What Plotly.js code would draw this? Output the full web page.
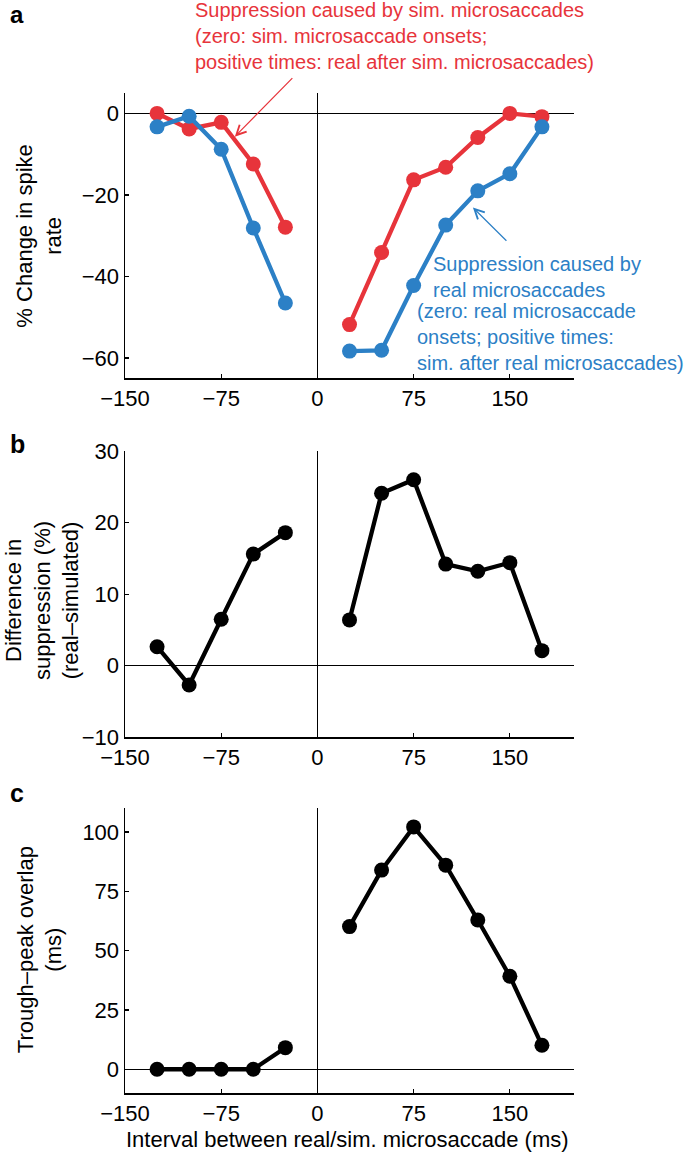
<!DOCTYPE html>
<html>
<head>
<meta charset="utf-8">
<script src="https://cdn.plot.ly/plotly-3.0.1.min.js"></script>
<style>html,body{margin:0;padding:0;background:#fff;}#chart{width:685px;height:1154px;}</style>
</head>
<body>
<div id="chart"></div>
<script>
// ---- data ----
const intervalsNeg = [-125, -100, -75, -50, -25];
const intervalsPos = [25, 50, 75, 100, 125, 150, 175];
const simSuppNeg  = [0, -3.8, -2.2, -12.4, -27.9];
const simSuppPos  = [-51.8, -34.1, -16.3, -13.2, -5.9, 0, -0.8];
const realSuppNeg = [-3.3, -0.7, -8.8, -28.1, -46.5];
const realSuppPos = [-58.3, -58.1, -42.2, -27.4, -19.0, -14.8, -3.3];
const diffNeg = [2.65, -2.7, 6.5, 15.6, 18.6];
const diffPos = [6.4, 24.1, 26.0, 14.2, 13.2, 14.4, 2.1];
const overlapNeg = [0, 0, 0, 0, 9.1];
const overlapPos = [60.1, 83.9, 102.1, 86.0, 62.9, 39.2, 10.1];
const xTicks = [-150, -75, 0, 75, 150];
const yTicksA = [-60, -40, -20, 0];
const yTicksB = [-10, 0, 10, 20, 30];
const yTicksC = [0, 25, 50, 75, 100];

// ---- styling / layout helpers ----
const W = 685, Hh = 1154;
const L = 124.6, R = 573.7, T = 92.7, B = 1093.3;
const px = x => (x - L) / (R - L);
const py = y => (B - y) / (B - T);
const FONT = 'Liberation Sans, Arial, Helvetica, sans-serif';
const RED = '#e7343b', BLUE = '#2c80c6', BLACK = '#000000';

function line(x, y, color, xa, ya) {
  return {x: x, y: y, xaxis: xa, yaxis: ya, type: 'scatter', mode: 'lines+markers',
    line: {color: color, width: 4.3}, marker: {color: color, size: 15}, showlegend: false, hoverinfo: 'skip'};
}
const traces = [
  line(intervalsNeg, simSuppNeg, RED, 'x', 'y'),
  line(intervalsPos, simSuppPos, RED, 'x', 'y'),
  line(intervalsNeg, realSuppNeg, BLUE, 'x', 'y'),
  line(intervalsPos, realSuppPos, BLUE, 'x', 'y'),
  line(intervalsNeg, diffNeg, BLACK, 'x2', 'y2'),
  line(intervalsPos, diffPos, BLACK, 'x2', 'y2'),
  line(intervalsNeg, overlapNeg, BLACK, 'x3', 'y3'),
  line(intervalsPos, overlapPos, BLACK, 'x3', 'y3')
];

function xax(anchor) {
  return {anchor: anchor, range: [-150, 200], tickvals: xTicks, ticks: 'inside', ticklen: 4, tickwidth: 1.2,
    tickcolor: '#000', showline: true, linewidth: 1.5, linecolor: '#000', showgrid: false,
    zeroline: true, zerolinecolor: '#000', zerolinewidth: 1.3, mirror: false,
    tickfont: {family: FONT, size: 22, color: '#000'}, fixedrange: true};
}
function yax(anchor, range, ticks, top, bottom) {
  return {anchor: anchor, range: range, tickvals: ticks, domain: [py(bottom), py(top)],
    ticks: 'inside', ticklen: 4, tickwidth: 1.2, tickcolor: '#000',
    showline: true, linewidth: 1.5, linecolor: '#000', showgrid: false,
    zeroline: true, zerolinecolor: '#000', zerolinewidth: 1.3, mirror: false,
    tickfont: {family: FONT, size: 22, color: '#000'}, fixedrange: true};
}

function txt(text, x, y, opts) {
  return Object.assign({text: text, xref: 'paper', yref: 'paper', x: px(x), y: py(y),
    showarrow: false, xanchor: 'center', yanchor: 'middle',
    font: {family: FONT, size: 22, color: '#000'}}, opts || {});
}
function arrow(x, y, ax, ay, color) {
  return {xref: 'x', yref: 'y', axref: 'x', ayref: 'y', x: x, y: y, ax: ax, ay: ay, text: '',
    showarrow: true, arrowhead: 5, arrowsize: 1.6, arrowwidth: 1.2, arrowcolor: color, standoff: 0};
}

const annotations = [
  txt('<b>a</b>', 9, 0, {xanchor: 'left', yanchor: 'top', borderpad: 0, font: {family: FONT, size: 24, color: '#000'}}),
  txt('<b>b</b>', 8, 444, {xanchor: 'left', font: {family: FONT, size: 25, color: '#000'}}),
  txt('<b>c</b>', 8, 793, {xanchor: 'left', font: {family: FONT, size: 25, color: '#000'}}),
  txt('% Change in spike<br>rate', 39, 236, {textangle: -90}),
  txt('Difference in<br>suppression (%)<br>(real\u2013simulated)', 41.5, 600, {textangle: -90}),
  txt('Trough\u2013peak overlap<br>(ms)', 39, 950, {textangle: -90}),
  txt('Interval between real/sim. microsaccade (ms)', 347, 1140),
  txt('Suppression caused by sim. microsaccades<br>(zero: sim. microsaccade onsets;<br>positive times: real after sim. microsaccades)',
      193, 35.5, {xanchor: 'left', align: 'left', font: {family: FONT, size: 20, color: RED}}),
  txt('Suppression caused by<br>real microsaccades', 431, 277, {xanchor: 'left', align: 'left', font: {family: FONT, size: 20, color: BLUE}}),
  txt('(zero: real microsaccade<br>onsets; positive times:<br>sim. after real microsaccades)', 414.5, 337.3,
      {xanchor: 'left', align: 'left', font: {family: FONT, size: 20, color: BLUE}}),
  arrow(-64.4, -5.7, -18.4, 9.0, RED),
  arrow(121.2, -23.1, 148.5, -31.6, BLUE)
];

const layout = {
  width: W, height: Hh,
  margin: {l: L, r: W - R, t: T, b: Hh - B, pad: 0},
  paper_bgcolor: '#fff', plot_bgcolor: '#fff',
  showlegend: false,
  font: {family: FONT, color: '#000'},
  xaxis: xax('y'), xaxis2: xax('y2'), xaxis3: xax('y3'),
  yaxis: yax('x', [-65, 5], yTicksA, 92.7, 378.3),
  yaxis2: yax('x2', [-10, 30], yTicksB, 451, 737.3),
  yaxis3: yax('x3', [-10, 110], yTicksC, 808.3, 1093.3),
  annotations: annotations
};

Plotly.newPlot('chart', traces, layout, {displayModeBar: false, staticPlot: true});
</script>
</body>
</html>
